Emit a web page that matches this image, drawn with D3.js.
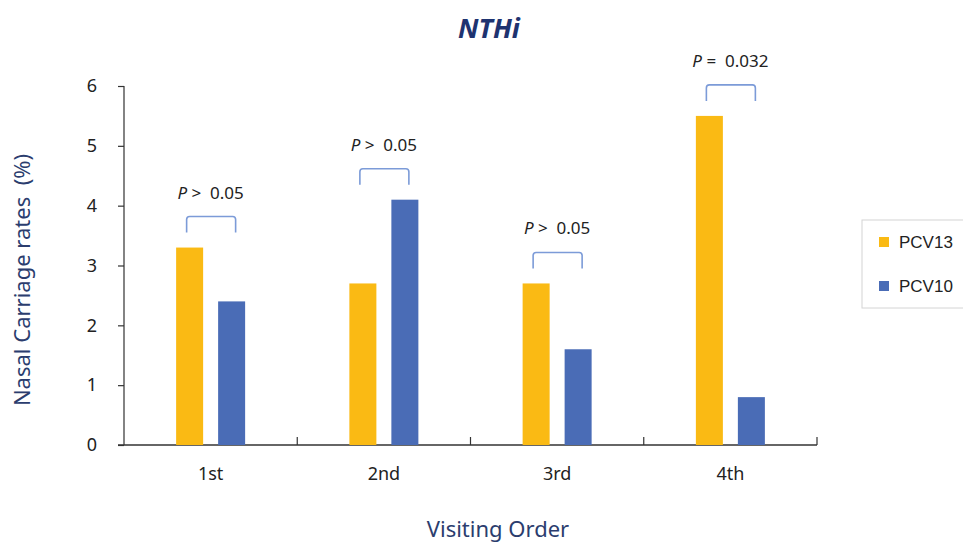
<!DOCTYPE html>
<html>
<head>
<meta charset="utf-8">
<script src="https://cdn.jsdelivr.net/npm/d3@7"></script>
<style>
  html, body { margin: 0; padding: 0; background: #fff; }
  svg { display: block; }
</style>
</head>
<body>
<svg id="chart" width="963" height="543"></svg>
<script>
// Nasal carriage of NTHi by visiting order, PCV13 vs PCV10
const categories = ["1st", "2nd", "3rd", "4th"];
const series = ["PCV13", "PCV10"];
const pcv13 = [3.3, 2.7, 2.7, 5.5];
const pcv10 = [2.4, 4.1, 1.6, 0.8];
const pLabels = [["P", " >  0.05"], ["P", " >  0.05"], ["P", " >  0.05"], ["P", " =  0.032"]];
const yTicks = [0, 1, 2, 3, 4, 5, 6];

const colors = { PCV13: "#FABA14", PCV10: "#4A6CB6" };
const navy = "#2B3D6E";
const font = "'Noto Sans', 'Open Sans', sans-serif";

const svg = d3.select("#chart");

const x = d3.scaleBand().domain(categories).range([124, 817]).paddingInner(0).paddingOuter(0);
const bw = x.bandwidth();
const xSub = d3.scaleBand().domain(series)
  .range([bw / 2 - 42, bw / 2 + 42]).paddingInner(0.357).paddingOuter(0.1786);
const y = d3.scaleLinear().domain([0, 6]).range([445, 86]);

// Title
svg.append("text")
  .attr("x", 489).attr("y", 38)
  .attr("text-anchor", "middle")
  .attr("font-family", font).attr("font-size", 27)
  .attr("font-weight", "bold").attr("font-style", "italic")
  .attr("fill", "#1E3370")
  .text("NTHi");

// Y axis
const yAxis = d3.axisLeft(y).tickValues(yTicks).tickSize(6).tickPadding(21)
  .tickFormat(d3.format("d"));
const gy = svg.append("g").attr("transform", "translate(124,0)").call(yAxis);
gy.select(".domain").attr("stroke", "#333").attr("stroke-width", 1.2).attr("d", "M-6,86.5H0V445");
gy.selectAll(".tick line").attr("stroke", "#333").attr("stroke-width", 1.2);
gy.selectAll(".tick text").attr("font-family", font).attr("font-size", 18).attr("fill", "#222");

// X axis: labels from the band axis, line and upward boundary ticks drawn separately
const xAxis = d3.axisBottom(x).tickSize(0).tickPadding(22);
const gx = svg.append("g").attr("transform", "translate(0,445)").call(xAxis);
gx.select(".domain").remove();
gx.selectAll(".tick text").attr("font-family", font).attr("font-size", 18).attr("fill", "#222");

svg.append("line")
  .attr("x1", 118).attr("x2", x.range()[1])
  .attr("y1", y(0)).attr("y2", y(0))
  .attr("stroke", "#333").attr("stroke-width", 1.3);

const boundaries = categories.slice(1).map(c => x(c)).concat([x.range()[1]]);
svg.append("g").selectAll("line").data(boundaries).join("line")
  .attr("x1", d => d).attr("x2", d => d)
  .attr("y1", y(0)).attr("y2", y(0) - 8)
  .attr("stroke", "#333").attr("stroke-width", 1.2);

// Bars
const rows = categories.map((c, i) => ({ cat: c, PCV13: pcv13[i], PCV10: pcv10[i] }));
const groups = svg.append("g").selectAll("g").data(rows).join("g")
  .attr("transform", d => `translate(${x(d.cat)},0)`);
groups.selectAll("rect")
  .data(d => series.map(s => ({ s, v: d[s] })))
  .join("rect")
  .attr("x", d => xSub(d.s))
  .attr("width", xSub.bandwidth())
  .attr("y", d => y(d.v))
  .attr("height", d => y(0) - y(d.v))
  .attr("fill", d => colors[d.s]);

// Significance brackets and P labels
rows.forEach((d, i) => {
  const top = y(Math.max(d.PCV13, d.PCV10));
  const cx = x(d.cat) + bw / 2;
  const x0 = cx - 24, x1 = cx + 25;
  const yb = top - 15, yt = top - 31, r = 3;
  svg.append("path")
    .attr("d", `M${x0},${yb}V${yt + r}Q${x0},${yt} ${x0 + r},${yt}H${x1 - r}Q${x1},${yt} ${x1},${yt + r}V${yb}`)
    .attr("fill", "none").attr("stroke", "#7C9BD8").attr("stroke-width", 1.6);
  const t = svg.append("text")
    .attr("x", cx).attr("y", top - 49)
    .attr("text-anchor", "middle")
    .attr("xml:space", "preserve")
    .attr("font-family", font).attr("font-size", 17).attr("fill", "#222");
  t.append("tspan").attr("font-style", "italic").text(pLabels[i][0]);
  t.append("tspan").text(pLabels[i][1]);
});

// Axis titles
svg.append("text")
  .attr("x", 498).attr("y", 537)
  .attr("text-anchor", "middle")
  .attr("font-family", font).attr("font-size", 22).attr("fill", navy)
  .text("Visiting Order");

svg.append("text")
  .attr("transform", "translate(30,280) rotate(-90)")
  .attr("text-anchor", "middle")
  .attr("font-family", font).attr("font-size", 22).attr("fill", navy)
  .attr("xml:space", "preserve")
  .text("Nasal Carriage rates  (%)");

// Legend
const lg = svg.append("g");
lg.append("rect")
  .attr("x", 862).attr("y", 220).attr("width", 140).attr("height", 88)
  .attr("fill", "#fff").attr("stroke", "#d4d4d4").attr("stroke-width", 1);
series.forEach((s, i) => {
  const cy = 242 + i * 44;
  lg.append("rect").attr("x", 879).attr("y", cy - 5).attr("width", 10).attr("height", 10)
    .attr("fill", colors[s]);
  lg.append("text").attr("x", 899).attr("y", cy + 6)
    .attr("font-family", "'Liberation Sans', Arial, sans-serif").attr("font-size", 17)
    .attr("fill", "#222").text(s);
});
</script>
</body>
</html>
